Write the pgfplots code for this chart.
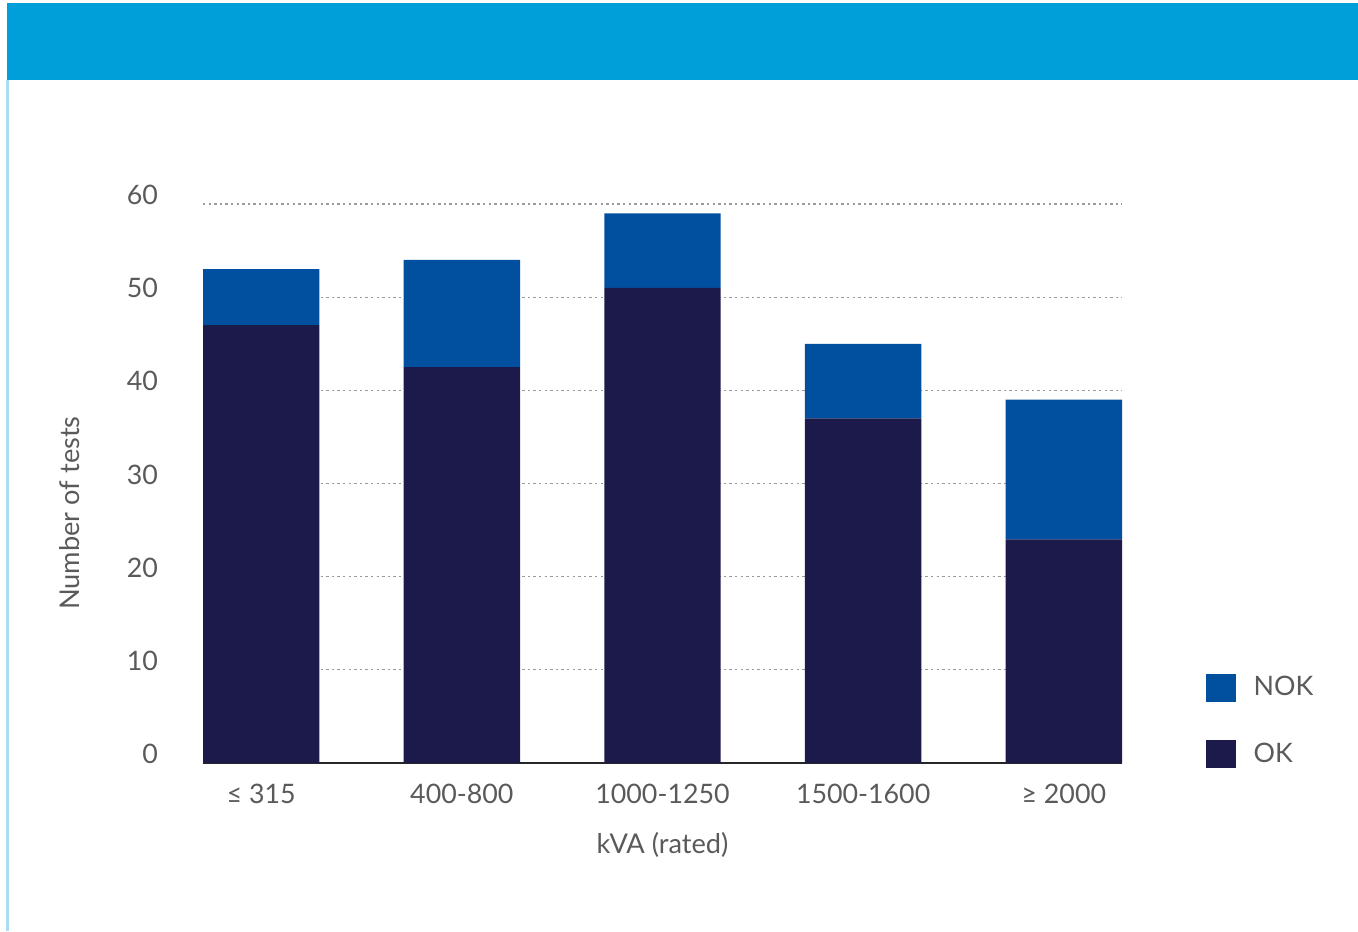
\documentclass[border=0pt]{standalone}
\usepackage{pgfplots}
\pgfplotsset{compat=1.18}
\usepackage{fontspec}
\setmainfont{Lato}
\definecolor{header}{HTML}{009FDA}
\definecolor{leftline}{HTML}{A9DDF3}
\definecolor{okc}{HTML}{1B1A4B}
\definecolor{nokc}{HTML}{01509F}
\definecolor{txt}{HTML}{5A5A5A}
\definecolor{gridc}{HTML}{9A9A9A}
\begin{document}
\begin{tikzpicture}
\useasboundingbox (0,0) rectangle (679pt,465.5pt);
\fill[header] (3.5pt,425.5pt) rectangle (679pt,464pt);
\fill[leftline] (3.2pt,0) rectangle (4.4pt,425.5pt);
\begin{axis}[
  at={(101.5pt,84pt)}, anchor=south west,
  scale only axis, width=459.5pt, height=279.5pt,
  ybar stacked, bar width=0.58,
  xmin=-0.29, xmax=4.29, ymin=0, ymax=60,
  xtick=data,
  xticklabels={≤ 315, 400-800, 1000-1250, 1500-1600, ≥ 2000},
  ytick={0,10,...,60},
  axis line style={draw=none},
  major tick length=0pt,
  ymajorgrids, grid style={gridc, line width=0.6pt, dash pattern=on 1.2pt off 1.6pt},
  /pgf/number format/assume math mode=true,
  tick label style={font=\fontsize{13.4}{16}\selectfont, text=txt},
  yticklabel shift=19pt,
  yticklabel style={yshift=4.5pt},
  xticklabel shift=7pt,
  xlabel={kVA (rated)}, ylabel={Number of tests},
  label style={font=\fontsize{13.6}{16}\selectfont, text=txt},
  xlabel style={at={(axis description cs:0.5,-0.146)}, anchor=center},
  ylabel style={at={(axis description cs:-0.145,0.447)}, anchor=center, rotate=0},
  legend style={at={(axis description cs:1.084,0.17)}, anchor=north west, draw=none, fill=none,
    font=\fontsize{13.4}{16}\selectfont, text=txt, row sep=18pt,
    /tikz/every odd column/.append style={column sep=7pt}},
  legend cell align=left,
  reverse legend,
  legend image code/.code={\fill[#1] (0pt,-7pt) rectangle (15pt,7pt);},
]
\addplot[fill=okc, draw=none] coordinates {(0,47) (1,42.5) (2,51) (3,37) (4,24)};
\addplot[fill=nokc, draw=none] coordinates {(0,6) (1,11.5) (2,8) (3,8) (4,15)};
\legend{OK, NOK}
\draw[black!85, line width=1.5pt] (axis cs:-0.29,0) -- (axis cs:4.29,0);
\end{axis}
\end{tikzpicture}
\end{document}
